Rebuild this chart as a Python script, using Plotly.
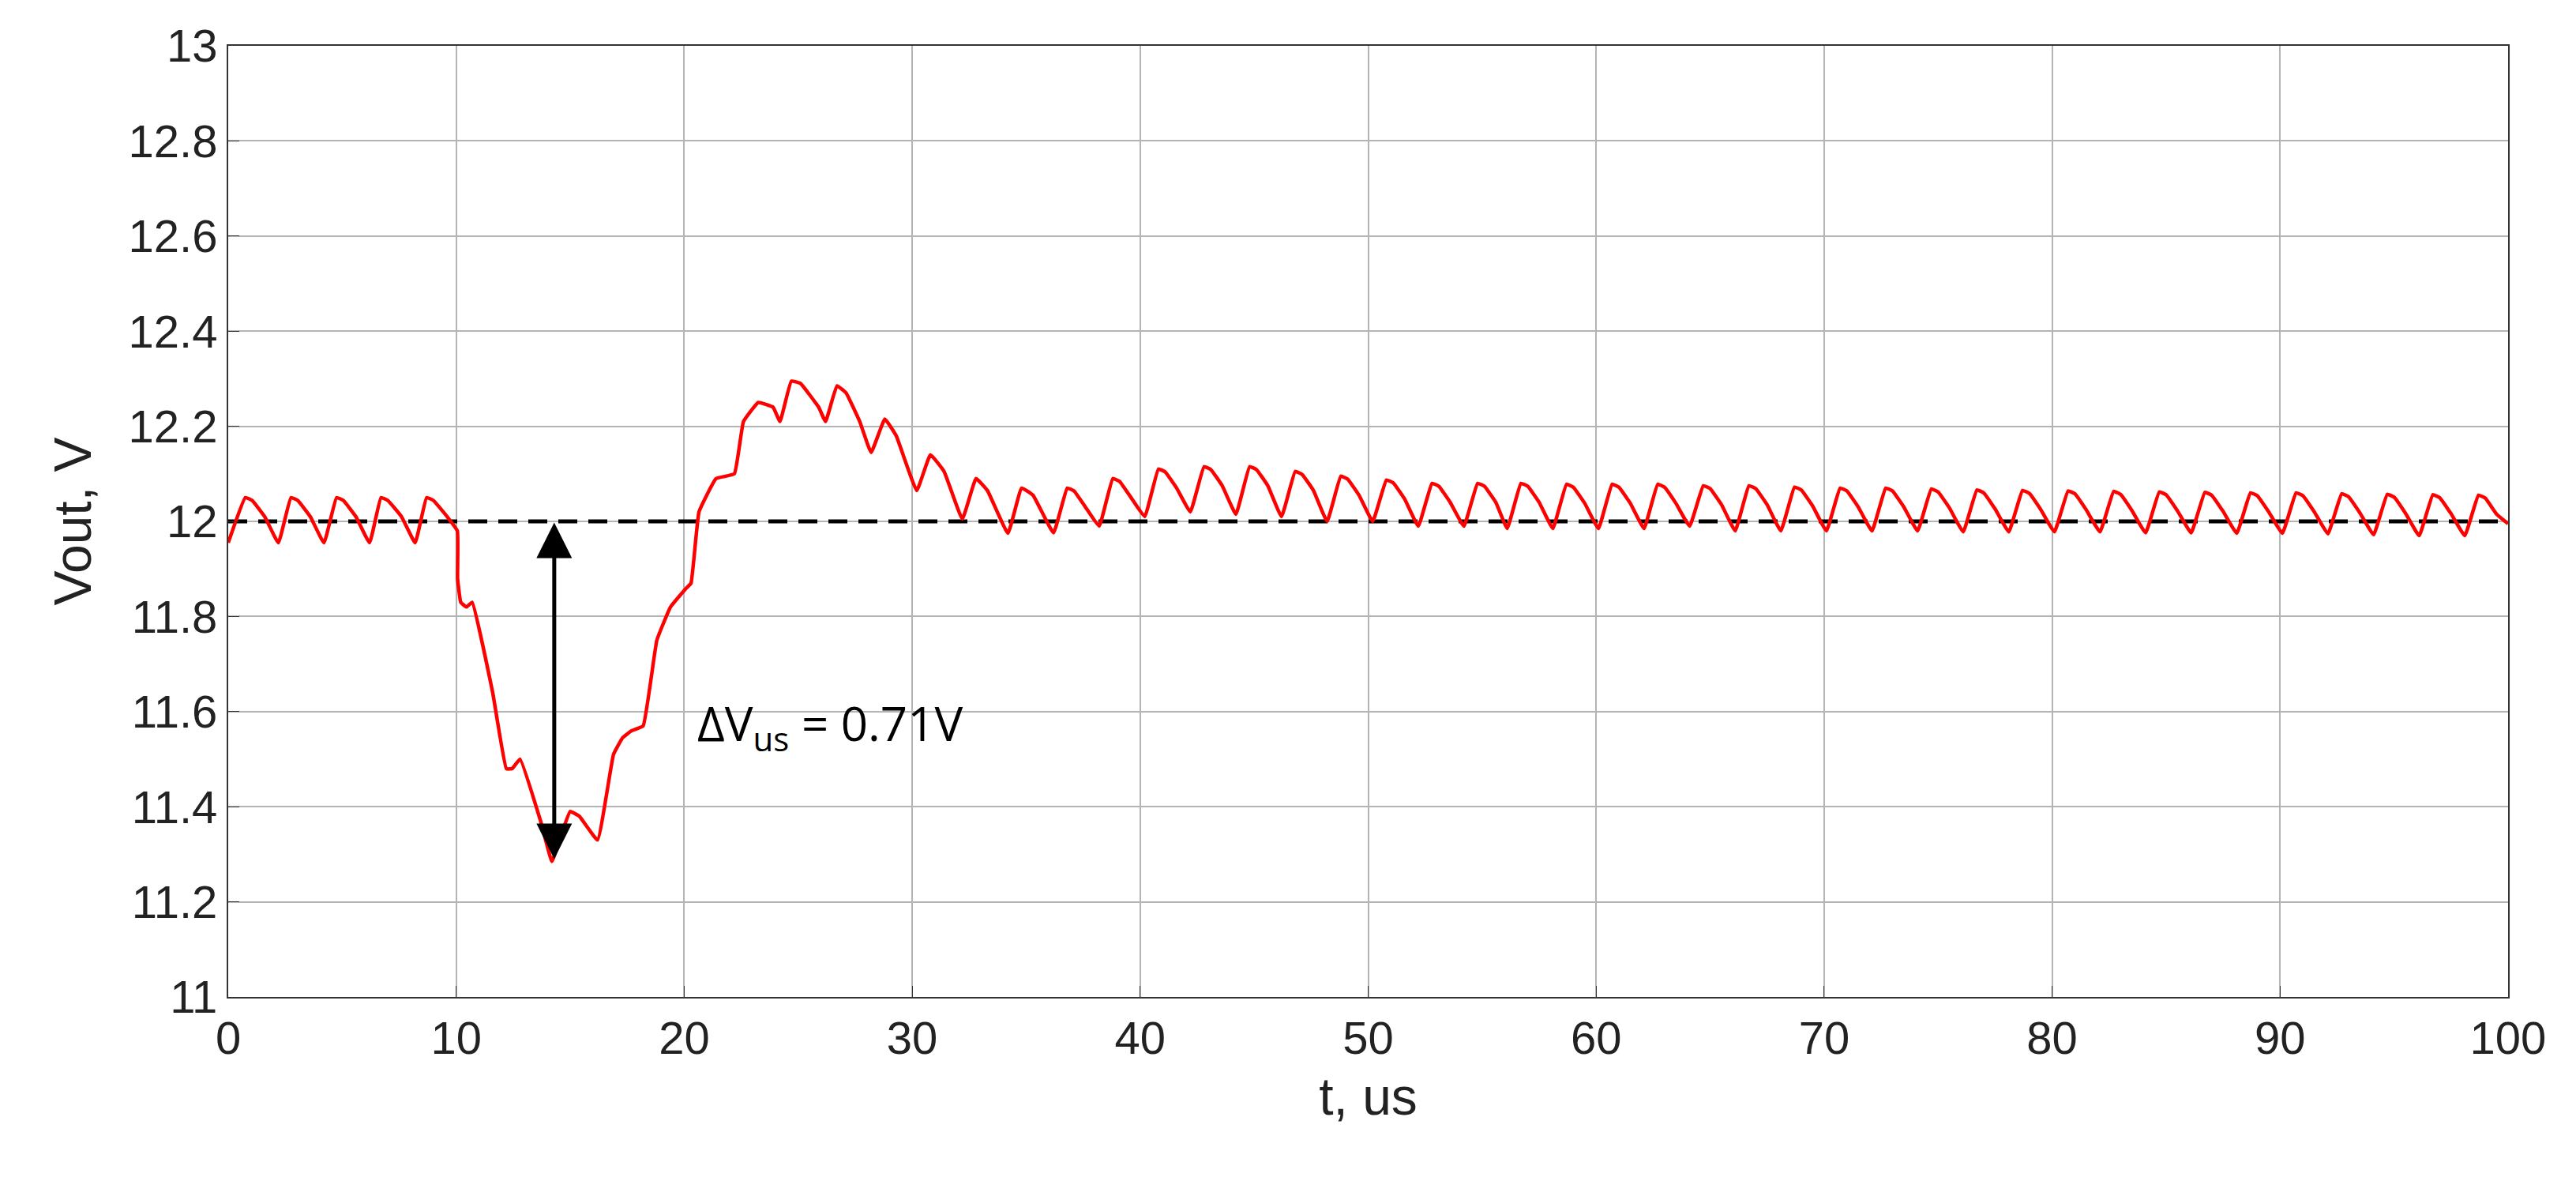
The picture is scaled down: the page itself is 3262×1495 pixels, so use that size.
import plotly.graph_objects as go

t_us = [0, 0.75, 1.05, 1.6, 2.2, 2.75, 3.05, 3.6, 4.2, 4.75, 5.05, 5.6, 6.2, 6.7, 7.0, 7.6, 8.2, 8.7, 9.0, 9.6,
        10.05, 10.06, 10.2, 10.45, 10.7, 11.6, 12.2, 12.45, 12.8, 13.7, 14.2, 14.6, 15.0, 15.4, 16.2, 16.9, 17.3, 17.7, 18.2,
        18.8, 19.4, 20.1, 20.3, 20.65, 21.4, 22.2, 22.6, 23.25, 23.9, 24.2, 24.7, 25.1, 25.9, 26.2, 26.7, 27.1, 27.7,
        28.2, 28.8, 29.3, 30.2, 30.8, 31.4, 32.2, 32.8, 33.3, 34.2, 34.8, 35.3,
        36.2, 36.8, 37.1, 37.6, 38.2, 38.8, 39.1, 39.6, 40.2, 40.8, 41.1, 41.6, 42.2, 42.8, 43.1, 43.6,
        44.2, 44.8, 45.1, 45.6, 46.2, 46.8, 47.1, 47.6, 48.2, 48.8, 49.1, 49.6, 50.2, 50.8, 51.1, 51.6,
        52.2, 52.8, 53.1, 53.6, 54.2, 54.8, 55.1, 55.6, 56.1, 56.7, 57.0, 57.5, 58.1, 58.7, 59.0, 59.5,
        60.1, 60.7, 61.0, 61.5, 62.1, 62.7, 63.0, 63.5, 64.1, 64.7, 65.0, 65.5, 66.1, 66.7, 67.0, 67.5,
        68.1, 68.7, 69.0, 69.5, 70.1, 70.7, 71.0, 71.5, 72.1, 72.7, 73.0, 73.5, 74.1, 74.7, 75.0, 75.5,
        76.1, 76.7, 77.0, 77.5, 78.1, 78.7, 79.0, 79.5, 80.1, 80.7, 81.0, 81.5, 82.1, 82.7, 83.0, 83.5,
        84.1, 84.7, 85.0, 85.5, 86.1, 86.7, 87.0, 87.5, 88.1, 88.7, 89.0, 89.5, 90.1, 90.7, 91.0, 91.5,
        92.1, 92.7, 93.0, 93.5, 94.1, 94.7, 95.0, 95.5, 96.1, 96.7, 97.0, 97.5, 98.1, 98.7, 99.0, 99.5, 100]
vout = [11.955, 12.05, 12.044, 12.01, 11.955, 12.05, 12.044, 12.01, 11.955, 12.05, 12.044, 12.01, 11.955, 12.05, 12.044, 12.01, 11.955, 12.05, 12.044, 12.01,
        11.98, 11.88, 11.83, 11.82, 11.83, 11.64, 11.48, 11.48, 11.50, 11.37, 11.285, 11.34, 11.39, 11.38, 11.33, 11.51, 11.545, 11.56, 11.57,
        11.75, 11.82, 11.86, 11.87, 12.02, 12.09, 12.10, 12.21, 12.25, 12.24, 12.21, 12.295, 12.29, 12.24, 12.21, 12.285, 12.27, 12.21,
        12.145, 12.215, 12.18, 12.065, 12.14, 12.105, 12.005, 12.09, 12.065, 11.975, 12.07, 12.055,
        11.976, 12.07, 12.064, 12.03, 11.99, 12.09, 12.084, 12.05, 12.01, 12.11, 12.104, 12.07, 12.02, 12.115, 12.109, 12.075,
        12.015, 12.115, 12.109, 12.075, 12.01, 12.105, 12.099, 12.065, 12.0, 12.095, 12.089, 12.055, 12.0, 12.087, 12.081, 12.047,
        11.99, 12.08, 12.074, 12.04, 11.99, 12.08, 12.074, 12.04, 11.985, 12.08, 12.074, 12.04, 11.985, 12.078, 12.072, 12.038,
        11.985, 12.078, 12.072, 12.038, 11.985, 12.078, 12.072, 12.038, 11.99, 12.075, 12.069, 12.035, 11.98, 12.075, 12.069, 12.035,
        11.98, 12.072, 12.066, 12.032, 11.98, 12.07, 12.064, 12.03, 11.98, 12.07, 12.064, 12.03, 11.98, 12.068, 12.062, 12.028,
        11.978, 12.066, 12.06, 12.026, 11.978, 12.065, 12.059, 12.025, 11.978, 12.064, 12.058, 12.024, 11.978, 12.063, 12.057, 12.023,
        11.976, 12.062, 12.056, 12.022, 11.976, 12.061, 12.055, 12.021, 11.975, 12.06, 12.054, 12.02, 11.975, 12.06, 12.054, 12.02,
        11.974, 12.058, 12.052, 12.018, 11.972, 12.057, 12.051, 12.017, 11.97, 12.056, 12.05, 12.016, 11.97, 12.055, 12.049, 12.015, 11.995]

ref_t = [0, 100]
ref_v = [12, 12]
arrow_t = 14.3
arrow_top = 12.0
arrow_bottom = 11.29
x_ticks = [0, 10, 20, 30, 40, 50, 60, 70, 80, 90, 100]
y_ticks = [11, 11.2, 11.4, 11.6, 11.8, 12, 12.2, 12.4, 12.6, 12.8, 13]
y_tick_text = ["11", "11.2", "11.4", "11.6", "11.8", "12", "12.2", "12.4", "12.6", "12.8", "13"]

fig = go.Figure()
fig.add_trace(go.Scatter(x=ref_t, y=ref_v, mode="lines",
                         line=dict(color="black", width=5, dash="24px,14px"), showlegend=False))
fig.add_trace(go.Scatter(x=t_us, y=vout, mode="lines", line_shape="spline",
                         line=dict(color="#ff0000", width=4.5, smoothing=0.3), showlegend=False))
fig.add_annotation(x=arrow_t, y=arrow_bottom, ax=arrow_t, ay=arrow_top, xref="x", yref="y",
                   axref="x", ayref="y", showarrow=True, arrowhead=2, arrowsize=1.8,
                   arrowwidth=5, arrowcolor="black", arrowside="end+start", text="")
fig.add_annotation(x=20.5, y=11.57, xref="x", yref="y", showarrow=False, xanchor="left",
                   text="ΔV<sub>us</sub> = 0.71V", font=dict(family="Open Sans", size=60, color="black"))

axis_common = dict(showgrid=True, gridcolor="#b4b4b4", gridwidth=2, showline=True,
                   linecolor="#333", linewidth=2, mirror=True, ticks="inside", ticklen=14,
                   tickcolor="#333", zeroline=False,
                   tickfont=dict(family="Liberation Sans", size=58, color="#222"))
fig.update_xaxes(range=[0, 100], tickvals=x_ticks, title=dict(text="t, us", font=dict(family="Liberation Sans", size=66, color="#222"), standoff=20), **axis_common)
fig.update_yaxes(range=[11, 13], tickvals=y_ticks, ticktext=y_tick_text,
                 title=dict(text="Vout, V", font=dict(family="Liberation Sans", size=66, color="#222"), standoff=25), **axis_common)
fig.update_layout(width=3262, height=1495, plot_bgcolor="white", paper_bgcolor="white",
                  margin=dict(l=281, r=94, t=50, b=241))
fig.write_html("out.html")
